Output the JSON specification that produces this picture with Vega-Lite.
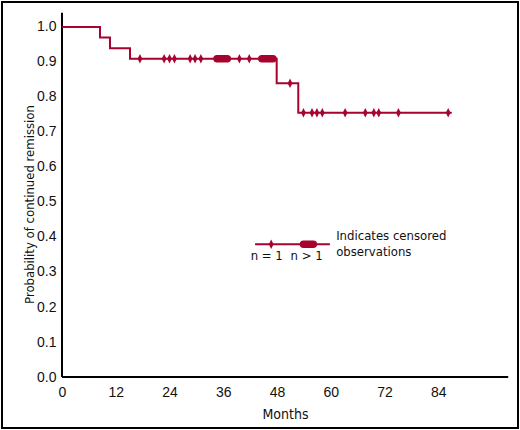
{
  "$schema": "https://vega.github.io/schema/vega-lite/v6.json",
  "width": 516,
  "height": 426,
  "padding": 2,
  "autosize": {"type": "none"},
  "background": "white",
  "config": {
    "view": {"stroke": "black", "strokeWidth": 2},
    "axis": {
      "domain": false,
      "ticks": false,
      "grid": false,
      "labelFont": "Liberation Sans",
      "labelFontSize": 14,
      "labelColor": "#111",
      "titleFont": "Liberation Sans Narrow, DejaVu Sans Condensed",
      "titleFontSize": 14,
      "titleFontWeight": "normal",
      "titleColor": "#111"
    }
  },
  "datasets": {
    "axes": [
      {"x": 0, "x2": 99.6, "y": 0, "y2": 0},
      {"x": 0, "x2": 0, "y": 0, "y2": 1.041}
    ],
    "curve": [
      {"x": 0, "y": 1.0},
      {"x": 8.48, "y": 0.9697},
      {"x": 10.71, "y": 0.9394},
      {"x": 15.18, "y": 0.9091},
      {"x": 47.92, "y": 0.8392},
      {"x": 52.74, "y": 0.7552},
      {"x": 87.0, "y": 0.7552}
    ],
    "single": [
      {"x": 17.4, "y": 0.9091},
      {"x": 22.8, "y": 0.9091},
      {"x": 24.0, "y": 0.9091},
      {"x": 25.1, "y": 0.9091},
      {"x": 28.6, "y": 0.9091},
      {"x": 29.7, "y": 0.9091},
      {"x": 31.0, "y": 0.9091},
      {"x": 39.6, "y": 0.9091},
      {"x": 41.8, "y": 0.9091},
      {"x": 50.9, "y": 0.8392},
      {"x": 53.9, "y": 0.7552},
      {"x": 55.8, "y": 0.7552},
      {"x": 56.9, "y": 0.7552},
      {"x": 58.1, "y": 0.7552},
      {"x": 63.2, "y": 0.7552},
      {"x": 67.7, "y": 0.7552},
      {"x": 69.6, "y": 0.7552},
      {"x": 70.7, "y": 0.7552},
      {"x": 75.1, "y": 0.7552},
      {"x": 86.2, "y": 0.7552},
      {"x": 46.7, "y": 0.379}
    ],
    "multi": [
      {"x": 34.6, "x2": 36.9, "y": 0.9091},
      {"x": 44.6, "x2": 47.1, "y": 0.9091},
      {"x": 53.9, "x2": 56.1, "y": 0.379}
    ],
    "keyline": [
      {"x": 43.1, "x2": 59.8, "y": 0.379}
    ],
    "labels": [
      {"x": 45.7, "y": 0.346, "label": "n = 1", "align": "center"},
      {"x": 54.6, "y": 0.346, "label": "n > 1", "align": "center"},
      {"x": 61.2, "y": 0.403, "label": "Indicates censored", "align": "left"},
      {"x": 61.2, "y": 0.357, "label": "observations", "align": "left"}
    ]
  },
  "encoding": {
    "x": {
      "field": "x",
      "type": "quantitative",
      "scale": {"domain": [-13.393, 101.786], "nice": false, "zero": false},
      "axis": {
        "values": [0, 12, 24, 36, 48, 60, 72, 84],
        "offset": -51,
        "labelPadding": 8,
        "title": "Months",
        "titleX": 283,
        "titleY": 41,
        "titleBaseline": "alphabetic",
        "titleAlign": "center"
      }
    },
    "y": {
      "field": "y",
      "type": "quantitative",
      "scale": {"domain": [-0.1457, 1.0714], "nice": false, "zero": false},
      "axis": {
        "values": [0, 0.1, 0.2, 0.3, 0.4, 0.5, 0.6, 0.7, 0.8, 0.9, 1.0],
        "format": ".1f",
        "offset": -60,
        "labelPadding": 6,
        "title": "Probability of continued remission",
        "titleFontSize": 13,
        "titleAngle": -90,
        "titleX": -29,
        "titleY": 202,
        "titleBaseline": "alphabetic",
        "titleAlign": "center"
      }
    }
  },
  "layer": [
    {
      "data": {"name": "axes"},
      "mark": {"type": "rule", "color": "black", "strokeWidth": 2},
      "encoding": {
        "x2": {"field": "x2"},
        "y2": {"field": "y2"}
      }
    },
    {
      "data": {"name": "curve"},
      "mark": {"type": "line", "interpolate": "step-after", "color": "#a6032f", "strokeWidth": 2}
    },
    {
      "data": {"name": "keyline"},
      "mark": {"type": "rule", "color": "#a6032f", "strokeWidth": 2},
      "encoding": {
        "x2": {"field": "x2"}
      }
    },
    {
      "data": {"name": "multi"},
      "mark": {"type": "rule", "color": "#a6032f", "strokeWidth": 7.5, "strokeCap": "round"},
      "encoding": {
        "x2": {"field": "x2"}
      }
    },
    {
      "data": {"name": "single"},
      "mark": {"type": "point", "shape": "M0,-1L0.5,0L0,1L-0.5,0Z", "filled": true, "size": 90, "color": "#a6032f", "opacity": 1}
    },
    {
      "data": {"name": "labels"},
      "transform": [{"filter": "datum.align == 'center'"}],
      "mark": {"type": "text", "align": "center", "baseline": "middle", "font": "Liberation Sans Narrow, DejaVu Sans Condensed", "fontSize": 13, "color": "#111"},
      "encoding": {"text": {"field": "label"}}
    },
    {
      "data": {"name": "labels"},
      "transform": [{"filter": "datum.align == 'left'"}],
      "mark": {"type": "text", "align": "left", "baseline": "middle", "font": "Liberation Sans Narrow, DejaVu Sans Condensed", "fontSize": 13, "color": "#111"},
      "encoding": {"text": {"field": "label"}}
    }
  ]
}
